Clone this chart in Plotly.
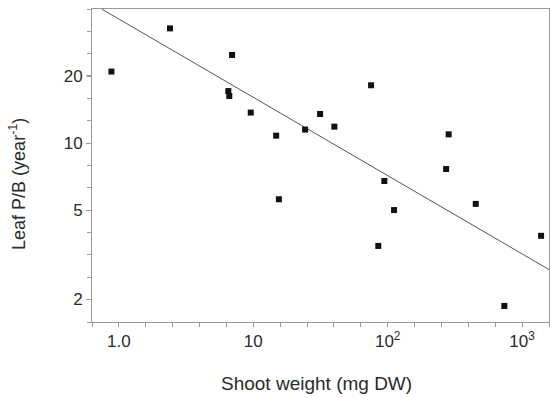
import plotly.graph_objects as go

# Shoot weight (mg DW) and leaf P/B (year^-1)
shoot_weight = [0.88, 2.40, 6.95, 6.52, 6.63, 9.57, 14.8, 24.3, 15.5, 31.4,
                40.1, 75.2, 94.4, 111.5, 85.1, 284, 272, 452, 1384, 738]
leaf_pb = [20.9, 32.6, 24.8, 17.1, 16.25, 13.7, 10.8, 11.5, 5.61, 13.5,
           11.85, 18.15, 6.77, 5.02, 3.47, 10.95, 7.66, 5.35, 3.85, 1.87]

# Regression line end points
fit_x = [0.745, 1585]
fit_y = [39.8, 2.72]

# Axis ticks
x_major_vals = [1, 10, 100, 1000]
x_major_text = ["1.0", "10", "10<sup>2</sup>", "10<sup>3</sup>"]
x_minor_vals = [10 ** (k * 0.2) for k in range(-1, 17)]
y_major_vals = [2, 5, 10, 20]
y_major_text = ["2", "5", "10", "20"]
y_minor_vals = [10 ** (k * 0.1) for k in range(2, 17)]

x_title = "Shoot weight (mg DW)"
y_title = "Leaf P/B (year<sup>-1</sup>)"

FONT = "Liberation Sans, Arial, sans-serif"
AX = "#9a9a9a"
TXT = "#2b2b2b"

fig = go.Figure()
fig.add_trace(go.Scatter(x=fit_x, y=fit_y, mode="lines",
                         line=dict(color="#555555", width=1), showlegend=False,
                         hoverinfo="skip"))
fig.add_trace(go.Scatter(x=shoot_weight, y=leaf_pb, mode="markers",
                         marker=dict(symbol="square", size=6, color="#111111"),
                         showlegend=False, cliponaxis=False))

fig.update_layout(
    width=550, height=398,
    margin=dict(l=92, r=1, t=9, b=76),
    plot_bgcolor="white", paper_bgcolor="white",
    font=dict(family=FONT, size=17, color=TXT),
    annotations=[
        dict(text=x_title, xref="paper", yref="paper", x=0.492, y=-0.195,
             xanchor="center", yanchor="middle", showarrow=False,
             font=dict(size=19, color=TXT)),
        dict(text=y_title, xref="paper", yref="paper", x=-0.162, y=0.441,
             xanchor="center", yanchor="middle", showarrow=False, textangle=-90,
             font=dict(size=18, color=TXT)),
    ],
)
fig.update_xaxes(
    type="log", range=[-0.2, 3.2],
    tickmode="array", tickvals=x_major_vals, ticktext=x_major_text,
    ticks="outside", ticklen=4, tickcolor=AX, tickfont=dict(size=17),
    minor=dict(tickmode="array", tickvals=x_minor_vals, ticks="outside",
               ticklen=4, tickcolor=AX, showgrid=False),
    showline=True, linecolor=AX, linewidth=1, mirror=True,
    showgrid=False, zeroline=False,
)
fig.update_yaxes(
    type="log", range=[0.2, 1.6],
    tickmode="array", tickvals=y_major_vals, ticktext=y_major_text,
    ticks="outside", ticklen=5, tickcolor=AX, tickfont=dict(size=17),
    minor=dict(tickmode="array", tickvals=y_minor_vals, ticks="outside",
               ticklen=4, tickcolor=AX, showgrid=False),
    showline=True, linecolor=AX, linewidth=1, mirror=True,
    showgrid=False, zeroline=False,
)

fig.write_html("out.html",
               config={"displayModeBar": False},
               post_script="document.body.style.margin='0';"
                           "document.body.style.overflow='hidden';")
